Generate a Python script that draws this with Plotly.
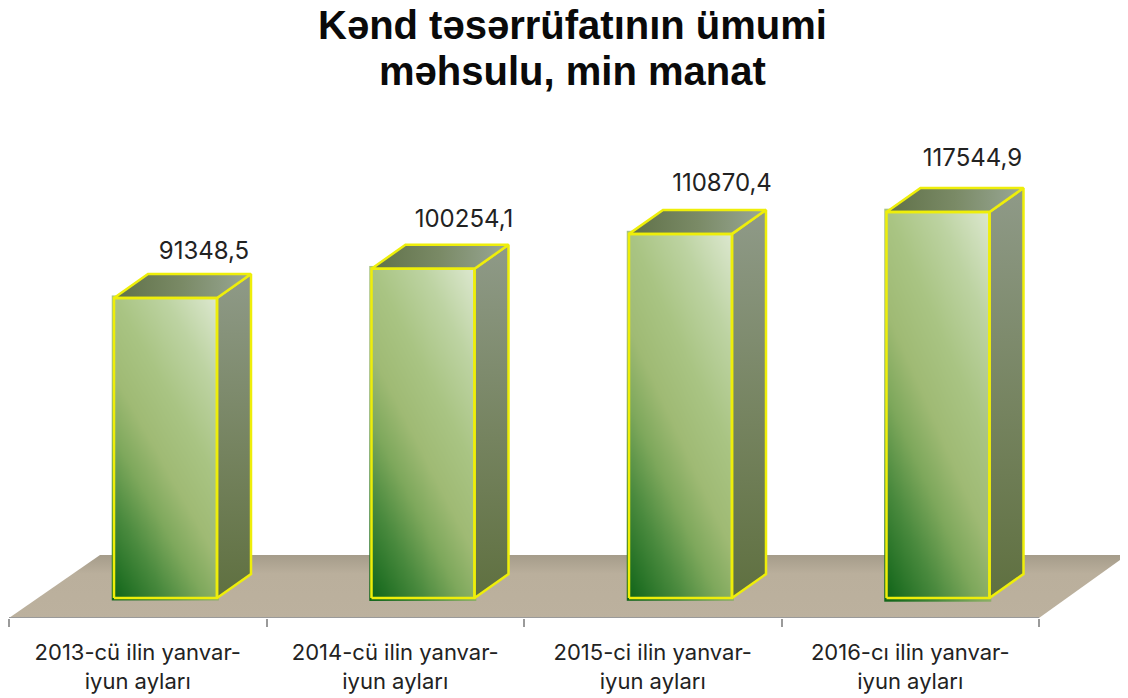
import numpy as np
import plotly.graph_objects as go

# --- data ---
categories = ["2013-cü ilin yanvar-<br>iyun ayları", "2014-cü ilin yanvar-<br>iyun ayları",
              "2015-ci ilin yanvar-<br>iyun ayları", "2016-cı ilin yanvar-<br>iyun ayları"]
values = [91348.5, 100254.1, 110870.4, 117544.9]
value_labels = ["91348,5", "100254,1", "110870,4", "117544,9"]
title_lines = ["Kənd təsərrüfatının ümumi", "məhsulu, min manat"]

# --- scale / 3-D projection (style constants) ---
PAGE_MARGIN = 8  # the browser's default body margin
W, H = 1128 - PAGE_MARGIN, 698 - PAGE_MARGIN
PLOT_BOTTOM = 618 - PAGE_MARGIN
PX_PER_CAT = 257.5
CAT0_PX = 137.75 - PAGE_MARGIN
PX_PER_UNIT = 300 / 91348.5
BASE_PX = 598 - PAGE_MARGIN
x_range = [(0 - CAT0_PX) / PX_PER_CAT, (W - CAT0_PX) / PX_PER_CAT]
y_range = [-(PLOT_BOTTOM - BASE_PX) / PX_PER_UNIT, BASE_PX / PX_PER_UNIT]
dx = 34 / PX_PER_CAT
dy = 24 / PX_PER_UNIT
half_w = 51.5 / PX_PER_CAT
front_off = 27.75 / PX_PER_CAT
label_dx = [38.5 / PX_PER_CAT, 41 / PX_PER_CAT, 41.5 / PX_PER_CAT, 34.5 / PX_PER_CAT]
label_dy = [45 / PX_PER_UNIT, 48 / PX_PER_UNIT, 49 / PX_PER_UNIT, 52 / PX_PER_UNIT]
YELLOW = "#eeee0a"
FRONT_SCALE = [[0, "#0d6012"], [0.08, "#12661a"], [0.25, "#4a8a3e"], [0.38, "#7ea85c"],
               [0.5, "#9fba74"], [0.65, "#a9c483"], [0.82, "#bdd3a2"], [1, "#dde8d0"]]
SIDE_SCALE = [[0, "#5f7040"], [0.45, "#75835f"], [1, "#8f9a88"]]
TOP_SCALE = [[0, "#5f7048"], [0.5, "#7a8a66"], [1, "#9aa896"]]

fig = go.Figure()

# floor
y_floor_back = -(555 - PAGE_MARGIN - BASE_PX) / PX_PER_UNIT
y_floor_front = y_range[0]
fig.add_trace(go.Scatter(
    x=[-0.5, (100 - PAGE_MARGIN - CAT0_PX) / PX_PER_CAT, (1127 - PAGE_MARGIN - CAT0_PX) / PX_PER_CAT, 3.5, -0.5],
    y=[y_floor_front, y_floor_back, y_floor_back, y_floor_front, y_floor_front],
    mode="lines", line=dict(width=0), fill="toself",
    fillgradient=dict(type="vertical", colorscale=[[0, "#bcb19e"], [0.7, "#baaf9c"], [1, "#a59c8a"]]),
    showlegend=False, hoverinfo="skip"))

# bars on an overlaid pair of axes
for i, v in enumerate(values):
    c = i + front_off
    l, r = c - half_w, c + half_w
    # front face: diagonal gradient
    xs = np.linspace(l, r, 24)
    ys = np.linspace(0, v, 60)
    u, w = np.meshgrid(np.linspace(0, 1, 24), np.linspace(0, 1, 60))
    fig.add_trace(go.Heatmap(x=xs, y=ys, z=0.075 + 0.575 * w + 0.35 * u, zmin=0, zmax=1, zsmooth="best",
                             colorscale=FRONT_SCALE, showscale=False, hoverinfo="skip",
                             xaxis="x2", yaxis="y2"))
    # right side
    fig.add_trace(go.Scatter(x=[r, r + dx, r + dx, r, r], y=[0, dy, v + dy, v, 0],
                             mode="lines", line=dict(color=YELLOW, width=2.5), fill="toself",
                             fillgradient=dict(type="vertical", colorscale=SIDE_SCALE),
                             showlegend=False, hoverinfo="skip", xaxis="x2", yaxis="y2"))
    # top
    fig.add_trace(go.Scatter(x=[l, l + dx, r + dx, r, l], y=[v, v + dy, v + dy, v, v],
                             mode="lines", line=dict(color=YELLOW, width=2.5), fill="toself",
                             fillgradient=dict(type="horizontal", colorscale=TOP_SCALE),
                             showlegend=False, hoverinfo="skip", xaxis="x2", yaxis="y2"))
    # front outline
    fig.add_trace(go.Scatter(x=[l, r, r, l, l], y=[0, 0, v, v, 0], mode="lines",
                             line=dict(color=YELLOW, width=2.5),
                             showlegend=False, hoverinfo="skip", xaxis="x2", yaxis="y2"))

# value labels
fig.add_trace(go.Scatter(
    x=[i + front_off + label_dx[i] for i in range(len(values))],
    y=[v + label_dy[i] for i, v in enumerate(values)],
    mode="text", text=value_labels, textposition="middle center",
    textfont=dict(family="Inter", size=24, color="#222222"),
    showlegend=False, hoverinfo="skip", xaxis="x2", yaxis="y2"))

# the heading: two lines set closer together than plotly's fixed line height allows
title_px = [25 - PAGE_MARGIN, 71 - PAGE_MARGIN]
annotations = [dict(text=t, xref="paper", yref="paper", x=(572.5 - PAGE_MARGIN) / W, y=1 - p / PLOT_BOTTOM,
                    xanchor="center", yanchor="middle", showarrow=False,
                    font=dict(family="Liberation Sans", size=40, color="#0a0a0a", weight="bold"))
               for t, p in zip(title_lines, title_px)]

fig.update_layout(
    width=W, height=H, autosize=False,
    margin=dict(l=0, r=0, t=0, b=H - PLOT_BOTTOM),
    paper_bgcolor="white", plot_bgcolor="white",
    annotations=annotations,
    xaxis=dict(range=x_range, tickmode="array", tickvals=list(range(len(categories))),
               ticktext=categories, ticks="", ticklabelstandoff=19, showgrid=False, zeroline=False,
               showline=False,
               tickfont=dict(family="Inter", size=22, color="#222222"),
               minor=dict(tickmode="array", tickvals=[-0.5, 0.5, 1.5, 2.5, 3.5], ticks="outside",
                          ticklen=8, tickwidth=2, tickcolor="#9a9a9a", showgrid=False)),
    yaxis=dict(range=y_range, visible=False),
    xaxis2=dict(range=x_range, overlaying="x", visible=False),
    yaxis2=dict(range=y_range, overlaying="y", visible=False),
    shapes=[dict(type="line", xref="x", yref="y", x0=-0.5, x1=3.5, y0=y_range[0], y1=y_range[0],
                 line=dict(color="#9a9a9a", width=2), layer="above")],
)
fig.write_html("out.html")
